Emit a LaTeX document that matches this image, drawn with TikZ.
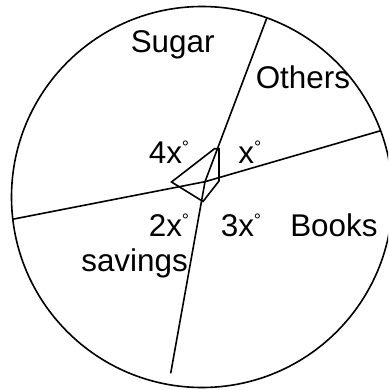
\documentclass[tikz,border=0pt]{standalone}
\usepackage{fontspec}
\setmainfont{Liberation Sans}
\newcommand{\dg}{\raisebox{10pt}{\fontsize{18}{18}\selectfont °}}
\begin{document}
\begin{tikzpicture}[x=1pt,y=-1pt,line width=1.6pt,
  lbl/.style={inner sep=0pt,anchor=base west,font=\fontsize{31.4}{36}\selectfont}]
\useasboundingbox (0,0) rectangle (388,390);
\clip (0,0) rectangle (388,390);
\coordinate (O) at (202,197);
\draw (O) circle [radius=190.5];
\coordinate (P) at (205,181.7);
\coordinate (A) at (266.7,18.3);
\coordinate (B) at (170.7,373.3);
\coordinate (C) at (12.3,219.3);
\coordinate (D) at (380.7,130.7);
\draw (A) -- (P) -- (B);
\draw (C) -- (P) -- (D);
\coordinate (m1) at (171.5,182);
\coordinate (m2) at (214.5,148.7);
\coordinate (m3) at (219,148.7);
\coordinate (m4) at (219,181);
\coordinate (m5) at (203,201.5);
\draw (m1) -- (m2) -- (m3) -- (m4) -- (m5) -- cycle;
\node[lbl] (sugar) at (130,53) {Sugar};
\node[lbl] (others) at (255,88.5) {Others};
\node[lbl] (a4) at (148,163.5) {4x\dg};
\node[lbl] (a1) at (237.5,163.5) {x\dg};
\node[lbl] (a2) at (148,236.7) {2x\dg};
\node[lbl] (a3) at (220,236.7) {3x\dg};
\node[lbl] (books) at (289.5,236.7) {Books};
\node[lbl] (savings) at (80.5,271.7) {savings};
\end{tikzpicture}
\end{document}
